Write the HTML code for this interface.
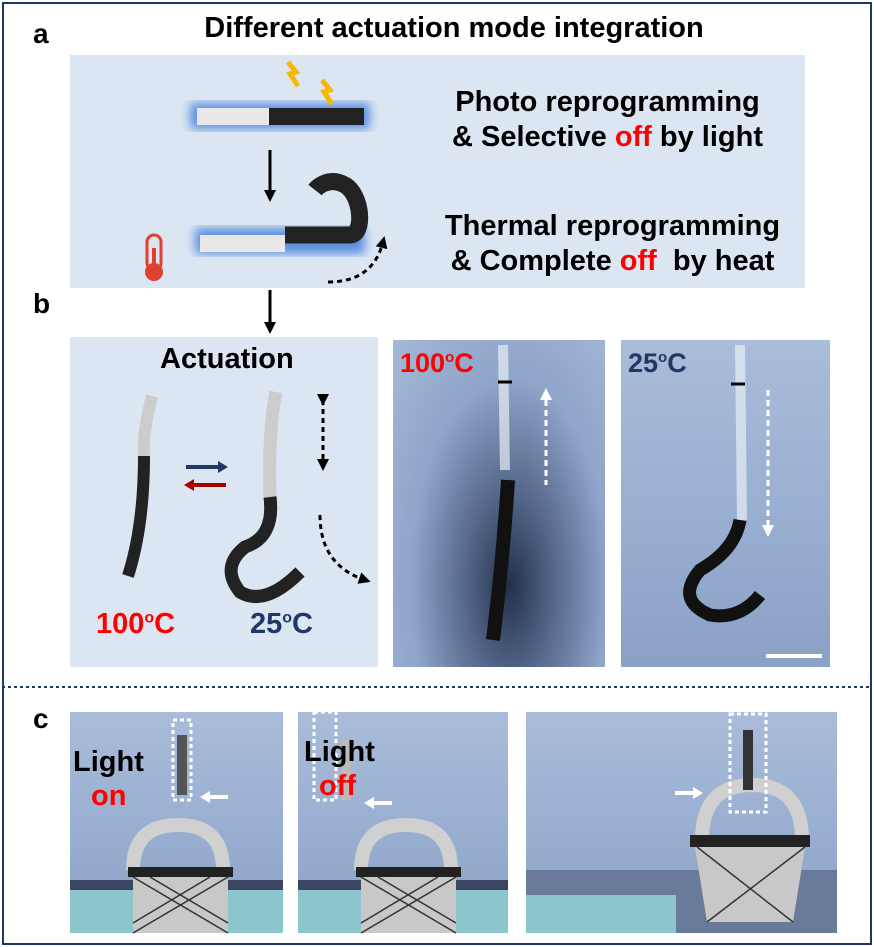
<!DOCTYPE html>
<html><head><meta charset="utf-8"><style>
body{margin:0;width:874px;height:947px;background:#fff;font-family:"Liberation Sans",Arial,sans-serif;position:relative;overflow:hidden}
.a{position:absolute}
.b{font-weight:bold}
.photo{position:absolute;background:linear-gradient(180deg,#a9bcd9 0%,#97add0 60%,#8aa0c4 100%)}
</style></head><body>
<div class="a" style="left:2px;top:2px;width:866px;height:939px;border:2px solid #1f3864"></div>
<div class="a b" style="left:33px;top:18px;font-size:28px">a</div>
<div class="a b" style="left:0;width:874px;top:12px;text-align:center;font-size:29px;padding-left:34px;box-sizing:border-box">Different actuation mode integration</div>
<div class="a" style="left:70px;top:55px;width:735px;height:233px;background:#dce6f2"></div>
<div class="a b" style="left:420px;top:85px;width:375px;text-align:center;font-size:29px;line-height:35px">Photo reprogramming<br>&amp; Selective <span style="color:#f00">off</span> by light</div>
<div class="a b" style="left:425px;top:209px;width:375px;text-align:center;font-size:29px;line-height:35px">Thermal reprogramming<br>&amp; Complete <span style="color:#f00">off</span>&nbsp; by heat</div>
<svg class="a" style="left:0;top:0" width="874" height="947">
<defs><filter id="g"><feGaussianBlur stdDeviation="5"/></filter>
<marker id="ar" markerUnits="userSpaceOnUse" markerWidth="12" markerHeight="12" refX="6" refY="6" orient="auto"><path d="M0,0L12,6L0,12z" fill="#000"/></marker></defs>
<rect x="190" y="103" width="180" height="26" fill="#5b8fe0" filter="url(#g)"/>
<rect x="197" y="108" width="72" height="17" fill="#e8e8e8"/><rect x="269" y="108" width="95" height="17" fill="#222"/>
<path d="M288 62l8 10-6 2 8 12" stroke="#f5b800" stroke-width="5" fill="none"/>
<path d="M322 80l8 10-6 2 8 12" stroke="#f5b800" stroke-width="5" fill="none"/>
<rect x="195" y="228" width="170" height="26" fill="#5b8fe0" filter="url(#g)"/>
<rect x="200" y="235" width="85" height="17" fill="#e8e8e8"/>
<path d="M285 235h65c15 0 12-40-5-50-18-10-30 5-30 5" stroke="#222" stroke-width="17" fill="none"/>
<line x1="270" y1="150" x2="270" y2="196" stroke="#000" stroke-width="3" marker-end="url(#ar)"/>
<line x1="270" y1="290" x2="270" y2="328" stroke="#000" stroke-width="3" marker-end="url(#ar)"/>
<path d="M328 282q45 0 55-40" stroke="#000" stroke-width="3" stroke-dasharray="5,4" fill="none" marker-end="url(#ar)"/>
<rect x="147" y="235" width="14" height="35" rx="7" fill="none" stroke="#e04030" stroke-width="3"/>
<circle cx="154" cy="272" r="9" fill="#e04030"/><rect x="152" y="248" width="4" height="22" fill="#e04030"/>
<line x1="2" y1="687" x2="872" y2="687" stroke="#1f3864" stroke-width="2" stroke-dasharray="3,3"/>
</svg>
<div class="a b" style="left:33px;top:288px;font-size:28px">b</div>
<div class="a" style="left:70px;top:337px;width:308px;height:330px;background:#dce6f2"></div>
<div class="a b" style="left:160px;top:343px;font-size:29px">Actuation</div>
<div class="a b" style="left:96px;top:608px;font-size:29px;color:#f00">100<sup style="font-size:16px">o</sup>C</div>
<div class="a b" style="left:250px;top:608px;font-size:29px;color:#1f3864">25<sup style="font-size:16px">o</sup>C</div>
<svg class="a" style="left:0;top:0" width="874" height="947">
<defs><marker id="ar2" markerUnits="userSpaceOnUse" markerWidth="12" markerHeight="12" refX="6" refY="6" orient="auto"><path d="M0,0L12,6L0,12z" fill="#000"/></marker></defs>
<path d="M152 396q-10 40-8 60" stroke="#ccc" stroke-width="12" fill="none"/>
<path d="M144 456q0 70-16 120" stroke="#222" stroke-width="12" fill="none"/>
<path d="M276 392q-8 40-6 105" stroke="#ccc" stroke-width="13" fill="none"/>
<path d="M270 497q5 40-25 50-25 20-5 45 25 15 60-20" stroke="#222" stroke-width="13" fill="none"/>
<line x1="186" y1="467" x2="218" y2="467" stroke="#1f3864" stroke-width="4"/><path d="M218 461l10 6-10 6z" fill="#1f3864"/>
<line x1="194" y1="485" x2="226" y2="485" stroke="#a00" stroke-width="4"/><path d="M194 479l-10 6 10 6z" fill="#a00"/>
<line x1="323" y1="400" x2="323" y2="465" stroke="#000" stroke-width="3" stroke-dasharray="5,4" marker-end="url(#ar2)" marker-start="url(#ar2)"/>
<path d="M320 515q0 50 45 65" stroke="#000" stroke-width="3" stroke-dasharray="5,4" fill="none" marker-end="url(#ar2)"/>
</svg>
<div class="photo" style="left:393px;top:340px;width:212px;height:327px;background:radial-gradient(ellipse at 55% 75%,#24304a 0%,#5a6d91 30%,#8fa5c9 60%,#a5b8d7 100%)"></div>
<div class="photo" style="left:621px;top:340px;width:209px;height:327px"></div>
<div class="a b" style="left:400px;top:348px;font-size:27px;color:#f00">100<sup style="font-size:15px">o</sup>C</div>
<div class="a b" style="left:628px;top:348px;font-size:27px;color:#1f3864">25<sup style="font-size:15px">o</sup>C</div>
<svg class="a" style="left:0;top:0" width="874" height="947">
<line x1="503" y1="345" x2="505" y2="470" stroke="#e8eef5" stroke-width="10" opacity=".7"/>
<path d="M508 480q-5 80-15 160" stroke="#111" stroke-width="14" fill="none"/>
<line x1="498" y1="382" x2="512" y2="382" stroke="#000" stroke-width="3"/>
<line x1="546" y1="400" x2="546" y2="485" stroke="#fff" stroke-width="3" stroke-dasharray="6,4"/><path d="M540 400l6-12 6 12z" fill="#fff"/>
<line x1="740" y1="345" x2="742" y2="520" stroke="#e8eef5" stroke-width="10" opacity=".7"/>
<path d="M740 520q-5 30-40 50-25 30 10 45 30 5 50-20" stroke="#111" stroke-width="13" fill="none"/>
<line x1="731" y1="384" x2="745" y2="384" stroke="#000" stroke-width="3"/>
<line x1="768" y1="390" x2="768" y2="525" stroke="#fff" stroke-width="3" stroke-dasharray="6,4"/><path d="M762 525l6 12 6-12z" fill="#fff"/>
<line x1="766" y1="656" x2="822" y2="656" stroke="#fff" stroke-width="4"/>
</svg>
<div class="a b" style="left:33px;top:703px;font-size:28px">c</div>
<div class="photo" style="left:70px;top:712px;width:213px;height:221px"></div>
<div class="photo" style="left:298px;top:712px;width:210px;height:221px"></div>
<div class="photo" style="left:526px;top:712px;width:311px;height:221px"></div>
<svg class="a" style="left:0;top:0" width="874" height="947">
<g>
<rect x="70" y="880" width="213" height="53" fill="#3a4662"/>
<rect x="70" y="890" width="213" height="43" fill="#8cc6cc"/>
<path d="M133 870q0-45 45-45 45 0 45 45" stroke="#d0d0d0" stroke-width="14" fill="none"/>
<rect x="128" y="867" width="105" height="10" fill="#222"/>
<rect x="133" y="877" width="95" height="56" fill="#c8c8c8"/>
<path d="M133 877l95 56M228 877l-95 56M150 877l78 46M210 877l-77 46" stroke="#333" stroke-width="1.5"/>
<rect x="177" y="735" width="10" height="60" fill="#555"/>
<rect x="173" y="720" width="18" height="80" fill="none" stroke="#fff" stroke-width="3" stroke-dasharray="4,3"/>
<path d="M228 797h-20" stroke="#fff" stroke-width="4"/><path d="M210 791l-10 6 10 6z" fill="#fff"/>
</g>
<g transform="translate(228 0)">
<rect x="70" y="880" width="210" height="53" fill="#3a4662"/>
<rect x="70" y="890" width="210" height="43" fill="#8cc6cc"/>
<path d="M133 870q0-45 45-45 45 0 45 45" stroke="#d0d0d0" stroke-width="14" fill="none"/>
<rect x="128" y="867" width="105" height="10" fill="#222"/>
<rect x="133" y="877" width="95" height="56" fill="#c8c8c8"/>
<path d="M133 877l95 56M228 877l-95 56M150 877l78 46M210 877l-77 46" stroke="#333" stroke-width="1.5"/>
<rect x="113" y="740" width="10" height="60" fill="#bbb"/>
<rect x="86" y="712" width="22" height="88" fill="none" stroke="#fff" stroke-width="3" stroke-dasharray="4,3"/>
<path d="M164 803h-20" stroke="#fff" stroke-width="4"/><path d="M146 797l-10 6 10 6z" fill="#fff"/>
</g>
<rect x="526" y="870" width="311" height="63" fill="#6a7a9a"/>
<rect x="526" y="895" width="150" height="38" fill="#8cc6cc"/>
<path d="M702 840q0-55 50-55 50 0 50 55" stroke="#d0d0d0" stroke-width="14" fill="none"/>
<rect x="690" y="835" width="120" height="12" fill="#222"/>
<path d="M695 847h110l-12 75h-86z" fill="#c8c8c8"/>
<path d="M697 847l96 75M805 847l-98 75" stroke="#333" stroke-width="1.5"/>
<rect x="743" y="730" width="10" height="60" fill="#333"/>
<rect x="730" y="714" width="36" height="98" fill="none" stroke="#fff" stroke-width="3" stroke-dasharray="4,3"/>
<path d="M675 793h20" stroke="#fff" stroke-width="4"/><path d="M693 787l10 6-10 6z" fill="#fff"/>
</svg>
<div class="a b" style="left:73px;top:745px;font-size:29px;line-height:34px">Light<br><span style="color:#f00;padding-left:18px">on</span></div>
<div class="a b" style="left:304px;top:735px;font-size:29px;line-height:34px">Light<br><span style="color:#f00;padding-left:15px">off</span></div>
</body></html>
